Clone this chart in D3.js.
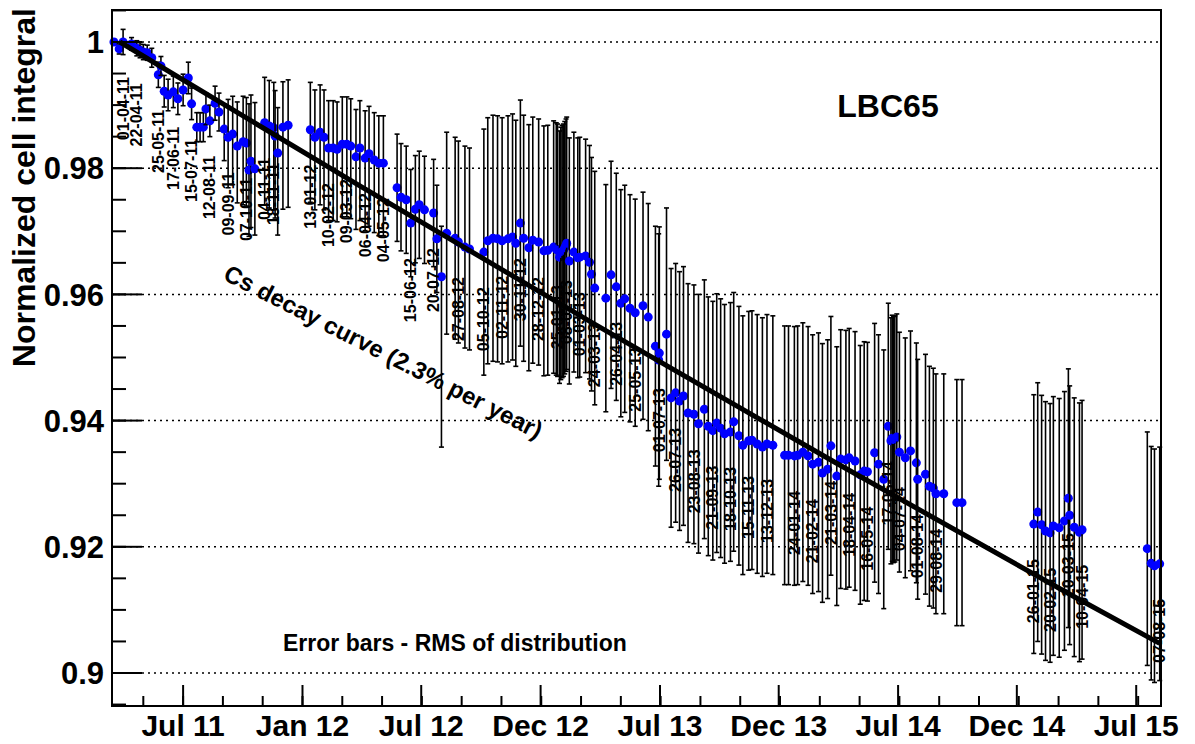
<!DOCTYPE html>
<html><head><meta charset="utf-8">
<script src="https://cdn.jsdelivr.net/npm/d3@7"></script>
<style>
body{margin:0;background:#fff}
svg text{font-family:"Liberation Sans",Arial,Helvetica,sans-serif;font-weight:bold;fill:#000}
</style>
</head><body>
<svg id="chart" width="1195" height="744"></svg>
<script>
// ---------------- data ----------------
const dates = [
"2011-03-18","2011-03-26","2011-04-01","2011-04-14","2011-04-22","2011-04-27","2011-05-02","2011-05-08","2011-05-15","2011-05-25",
"2011-05-29","2011-06-03","2011-06-09","2011-06-17","2011-06-24","2011-07-02","2011-07-10","2011-07-15","2011-07-23","2011-07-28",
"2011-08-02","2011-08-06","2011-08-12","2011-08-20","2011-08-26","2011-09-03","2011-09-09","2011-09-16","2011-09-23","2011-10-02",
"2011-10-07","2011-10-11","2011-10-14","2011-10-20","2011-11-04","2011-11-11","2011-11-18","2011-11-20","2011-11-24","2011-12-02",
"2011-12-10","2012-01-13","2012-01-20","2012-01-28","2012-02-03","2012-02-10","2012-02-17","2012-02-23","2012-03-02","2012-03-09",
"2012-03-15","2012-03-23","2012-03-29","2012-04-06","2012-04-12","2012-04-20","2012-04-27","2012-05-04","2012-05-25","2012-05-31",
"2012-06-08","2012-06-15","2012-06-22","2012-06-28","2012-07-06","2012-07-20","2012-07-25","2012-08-01","2012-08-09","2012-08-22",
"2012-08-27","2012-09-06","2012-09-13","2012-10-05","2012-10-11","2012-10-19","2012-10-26","2012-11-02","2012-11-11","2012-11-18",
"2012-11-23","2012-11-30","2012-12-05","2012-12-13","2012-12-19","2012-12-28","2013-01-05","2013-01-11","2013-01-20","2013-01-24",
"2013-01-26","2013-01-29","2013-01-31","2013-02-02","2013-02-04","2013-02-06","2013-02-08","2013-02-09","2013-02-13","2013-02-20",
"2013-02-26","2013-03-01","2013-03-10","2013-03-16","2013-03-19","2013-03-24","2013-04-10","2013-04-18","2013-04-26","2013-05-03",
"2013-05-09","2013-05-17","2013-05-25","2013-06-06","2013-06-14","2013-06-25","2013-06-30","2013-07-01","2013-07-12","2013-07-19",
"2013-07-26","2013-08-01","2013-08-07","2013-08-14","2013-08-23","2013-08-30","2013-09-08","2013-09-14","2013-09-21","2013-09-27",
"2013-10-03","2013-10-09","2013-10-18","2013-10-23","2013-10-31","2013-11-06","2013-11-15","2013-11-20","2013-11-28","2013-12-06",
"2013-12-13","2013-12-22","2014-01-09","2014-01-15","2014-01-24","2014-01-29","2014-02-06","2014-02-14","2014-02-21","2014-03-02",
"2014-03-08","2014-03-16","2014-03-21","2014-03-30","2014-04-05","2014-04-13","2014-04-18","2014-04-27","2014-05-05","2014-05-11",
"2014-05-16","2014-05-27","2014-06-02","2014-06-10","2014-06-17","2014-06-21","2014-06-23","2014-06-25","2014-06-27","2014-06-30",
"2014-07-04","2014-07-13","2014-07-21","2014-07-30","2014-08-01","2014-08-13","2014-08-19","2014-08-25","2014-08-29","2014-09-10",
"2014-09-30","2014-10-08","2015-01-26","2015-02-01","2015-02-07","2015-02-13","2015-02-20","2015-02-25","2015-03-06","2015-03-14",
"2015-03-20","2015-03-22","2015-03-29","2015-04-06","2015-04-10","2015-07-19","2015-07-25","2015-07-30","2015-08-07"
];
const values = [
1.0000,0.9989,1.0000,0.9997,0.9990,0.9987,0.9984,0.9983,0.9975,0.9948,
0.9962,0.9922,0.9916,0.9921,0.9910,0.9924,0.9943,0.9902,0.9865,0.9865,
0.9865,0.9894,0.9875,0.9903,0.9889,0.9862,0.9849,0.9854,0.9835,0.9842,
0.9840,0.9797,0.9811,0.9799,0.9872,0.9867,0.9864,0.9851,0.9824,0.9865,
0.9868,0.9861,0.9849,0.9857,0.9849,0.9832,0.9832,0.9830,0.9838,0.9838,
0.9835,0.9818,0.9832,0.9816,0.9823,0.9813,0.9808,0.9808,0.9769,0.9754,
0.9750,0.9713,0.9735,0.9742,0.9734,0.9729,0.9688,0.9628,0.9697,0.9689,
0.9683,0.9675,0.9672,0.9667,0.9685,0.9689,0.9688,0.9685,0.9688,0.9691,
0.9681,0.9713,0.9689,0.9674,0.9686,0.9683,0.9669,0.9670,0.9675,0.9672,
0.9670,0.9659,0.9665,0.9668,0.9670,0.9674,0.9678,0.9681,0.9653,0.9667,
0.9658,0.9659,0.9661,0.9651,0.9632,0.9610,0.9594,0.9631,0.9612,0.9586,
0.9593,0.9578,0.9571,0.9582,0.9564,0.9518,0.9496,0.9507,0.9537,0.9436,
0.9444,0.9431,0.9439,0.9412,0.9410,0.9395,0.9418,0.9391,0.9384,0.9396,
0.9388,0.9379,0.9382,0.9398,0.9376,0.9361,0.9368,0.9369,0.9363,0.9358,
0.9363,0.9361,0.9345,0.9345,0.9344,0.9345,0.9350,0.9344,0.9331,0.9334,
0.9317,0.9323,0.9360,0.9312,0.9339,0.9338,0.9341,0.9336,0.9314,0.9320,
0.9319,0.9349,0.9331,0.9307,0.9391,0.9368,0.9372,0.9370,0.9371,0.9374,
0.9350,0.9341,0.9352,0.9333,0.9307,0.9315,0.9296,0.9293,0.9284,0.9284,
0.9270,0.9270,0.9236,0.9255,0.9235,0.9225,0.9222,0.9233,0.9230,0.9241,
0.9277,0.9250,0.9231,0.9223,0.9227,0.9197,0.9174,0.9170,0.9173
];
// upper and lower extent of the RMS error bars
const errorsUp = [
0.0004,0.0008,0.0020,0.0010,0.0012,0.0012,0.0012,0.0012,0.0015,0.0020,
0.0015,0.0025,0.0025,0.0025,0.0025,0.0025,0.0025,0.0025,0.0023,0.0023,
0.0023,0.0025,0.0025,0.0027,0.0030,0.0040,0.0060,0.0060,0.0070,0.0072,
0.0072,0.0105,0.0105,0.0105,0.0072,0.0072,0.0072,0.0072,0.0072,0.0072,
0.0072,0.0075,0.0075,0.0075,0.0075,0.0075,0.0075,0.0075,0.0075,0.0075,
0.0075,0.0075,0.0075,0.0075,0.0075,0.0075,0.0075,0.0075,0.0085,0.0085,
0.0085,0.0085,0.0085,0.0085,0.0085,0.0085,0.0085,0.0080,0.0160,0.0160,
0.0160,0.0160,0.0160,0.0195,0.0195,0.0195,0.0195,0.0195,0.0195,0.0195,
0.0195,0.0195,0.0195,0.0195,0.0195,0.0195,0.0198,0.0198,0.0200,0.0200,
0.0200,0.0200,0.0200,0.0200,0.0200,0.0200,0.0200,0.0200,0.0195,0.0190,
0.0190,0.0190,0.0185,0.0185,0.0185,0.0185,0.0180,0.0180,0.0180,0.0180,
0.0180,0.0180,0.0180,0.0180,0.0180,0.0190,0.0200,0.0200,0.0200,0.0205,
0.0205,0.0205,0.0205,0.0205,0.0205,0.0205,0.0205,0.0205,0.0205,0.0205,
0.0205,0.0205,0.0205,0.0205,0.0205,0.0205,0.0205,0.0205,0.0205,0.0205,
0.0205,0.0205,0.0205,0.0205,0.0205,0.0205,0.0205,0.0205,0.0205,0.0205,
0.0205,0.0205,0.0205,0.0205,0.0205,0.0205,0.0205,0.0205,0.0205,0.0205,
0.0205,0.0205,0.0205,0.0205,0.0195,0.0195,0.0195,0.0195,0.0195,0.0195,
0.0190,0.0190,0.0190,0.0190,0.0190,0.0190,0.0190,0.0190,0.0190,0.0190,
0.0195,0.0195,0.0205,0.0205,0.0205,0.0205,0.0205,0.0205,0.0205,0.0205,
0.0205,0.0205,0.0205,0.0205,0.0205,0.0185,0.0185,0.0185,0.0185
];
const errorsDown = [
0.0004,0.0008,0.0020,0.0010,0.0012,0.0012,0.0012,0.0012,0.0015,0.0020,
0.0015,0.0025,0.0025,0.0025,0.0025,0.0025,0.0025,0.0025,0.0023,0.0023,
0.0023,0.0025,0.0025,0.0027,0.0030,0.0050,0.0080,0.0080,0.0090,0.0100,
0.0100,0.0105,0.0105,0.0105,0.0130,0.0130,0.0130,0.0130,0.0130,0.0130,
0.0130,0.0115,0.0115,0.0115,0.0115,0.0115,0.0115,0.0115,0.0115,0.0115,
0.0115,0.0115,0.0115,0.0115,0.0115,0.0115,0.0115,0.0115,0.0085,0.0085,
0.0085,0.0085,0.0085,0.0085,0.0085,0.0085,0.0085,0.0270,0.0160,0.0160,
0.0160,0.0160,0.0160,0.0195,0.0195,0.0195,0.0195,0.0195,0.0195,0.0195,
0.0195,0.0195,0.0195,0.0195,0.0195,0.0195,0.0198,0.0198,0.0200,0.0200,
0.0200,0.0200,0.0200,0.0200,0.0200,0.0200,0.0200,0.0200,0.0195,0.0190,
0.0190,0.0190,0.0185,0.0185,0.0185,0.0185,0.0180,0.0180,0.0180,0.0180,
0.0180,0.0180,0.0180,0.0180,0.0180,0.0190,0.0200,0.0200,0.0200,0.0205,
0.0205,0.0205,0.0205,0.0205,0.0205,0.0205,0.0205,0.0205,0.0205,0.0205,
0.0205,0.0205,0.0205,0.0205,0.0205,0.0205,0.0205,0.0205,0.0205,0.0205,
0.0205,0.0205,0.0205,0.0205,0.0205,0.0205,0.0205,0.0205,0.0205,0.0205,
0.0205,0.0205,0.0205,0.0205,0.0205,0.0205,0.0205,0.0205,0.0205,0.0205,
0.0205,0.0205,0.0205,0.0205,0.0195,0.0195,0.0195,0.0195,0.0195,0.0195,
0.0190,0.0190,0.0190,0.0190,0.0190,0.0190,0.0190,0.0190,0.0190,0.0190,
0.0195,0.0195,0.0205,0.0205,0.0205,0.0205,0.0205,0.0205,0.0205,0.0205,
0.0205,0.0205,0.0205,0.0205,0.0205,0.0185,0.0185,0.0185,0.0185
];
const labelDates = [
"2011-04-01","2011-04-22","2011-05-25","2011-06-17","2011-07-15","2011-08-12","2011-09-09","2011-10-07","2011-11-04","2011-11-18",
"2012-01-13","2012-02-10","2012-03-09","2012-04-06","2012-05-04","2012-06-15","2012-07-20","2012-08-27","2012-10-05","2012-11-02",
"2012-11-30","2012-12-28","2013-01-26","2013-02-08","2013-03-01","2013-03-24","2013-04-26","2013-05-25","2013-07-01","2013-07-26",
"2013-08-23","2013-09-21","2013-10-18","2013-11-15","2013-12-13","2014-01-24","2014-02-21","2014-03-21","2014-04-18","2014-05-16",
"2014-06-17","2014-07-04","2014-08-01","2014-08-29","2015-01-26","2015-02-20","2015-03-20","2015-04-10","2015-08-07"
];
const labelTexts = [
"01-04-11","22-04-11","25-05-11","17-06-11","15-07-11","12-08-11","09-09-11","07-10-11","04-11-11","18-11-11",
"13-01-12","10-02-12","09-03-12","06-04-12","04-05-12","15-06-12","20-07-12","27-08-12","05-10-12","02-11-12",
"30-11-12","28-12-12","25-01-13","08-02-13","01-03-13","24-03-13","26-04-13","25-05-13","01-07-13","26-07-13",
"23-08-13","21-09-13","18-10-13","15-11-13","13-12-13","24-01-14","21-02-14","21-03-14","18-04-14","16-05-14",
"17-06-14","04-07-14","01-08-14","29-08-14","26-01-15","20-02-15","20-03-15","10-04-15","07-08-15"
];
const decayDates  = ["2011-03-27","2012-03-27","2013-03-27","2014-03-27","2015-03-27","2015-08-07"];
const decayValues = [1.0000,0.9773,0.9551,0.9334,0.9122,0.9047];
const xTickDates  = ["2011-07-02","2012-01-01","2012-07-01","2012-12-31","2013-07-02","2013-12-31","2014-07-02","2014-12-31","2015-07-02"];
const xTickLabels = ["Jul 11","Jan 12","Jul 12","Dec 12","Jul 13","Dec 13","Jul 14","Dec 14","Jul 15"];
const yTicks      = [0.9,0.92,0.94,0.96,0.98,1.0];
const yTickLabels = ["0.9","0.92","0.94","0.96","0.98","1"];
const yTitle = "Normalized cell integral";
const cellName = "LBC65";
const curveText = "Cs decay curve (2.3% per year)";
const noteText = "Error bars - RMS of distribution";

// ---------------- layout ----------------
const parse = d3.utcParse("%Y-%m-%d");
const L = 112, R = 1161, T = 10, B = 706;
const x = d3.scaleUtc().domain([parse("2011-03-15"), parse("2015-08-09")]).range([L, R]);
const y = d3.scaleLinear().domain([0.89477, 1.00507]).range([B, T]);
const svg = d3.select("#chart");

const pts = dates.map((d,i)=>({t:parse(d), v:values[i], up:errorsUp[i], dn:errorsDown[i]}));

// grid
svg.append("g").selectAll("line").data(yTicks).join("line")
  .attr("x1", L).attr("x2", R).attr("y1", d=>y(d)).attr("y2", d=>y(d))
  .attr("stroke","#000").attr("stroke-width",1.5).attr("stroke-dasharray","2,4");

// points with error bars
const cap = 2.5;
const pg = svg.append("g");
pts.forEach(p=>{
  const g = pg.append("g").attr("stroke","#000").attr("stroke-width",1.6);
  const px = x(p.t), y1 = y(p.v + p.up), y2 = y(p.v - p.dn);
  g.append("line").attr("x1",px).attr("x2",px).attr("y1",y1).attr("y2",y2);
  g.append("line").attr("x1",px-cap).attr("x2",px+cap).attr("y1",y1).attr("y2",y1);
  g.append("line").attr("x1",px-cap).attr("x2",px+cap).attr("y1",y2).attr("y2",y2);
  g.append("circle").attr("cx",px).attr("cy",y(p.v)).attr("r",4.5).attr("fill","#0000ff").attr("stroke","none");
});

// decay curve
const line = d3.line().x(d=>x(d.t)).y(d=>y(d.v));
svg.append("path").datum(decayDates.map((d,i)=>({t:parse(d), v:decayValues[i]})))
  .attr("d", line).attr("fill","none").attr("stroke","#000").attr("stroke-width",5);

// date labels
const bisect = d3.bisector(d=>d.t).center;
svg.append("g").selectAll("text").data(labelDates.map((d,i)=>({t:parse(d), s:labelTexts[i]}))).join("text")
  .attr("transform", d=>{ const p = pts[bisect(pts, d.t)]; return `translate(${x(d.t)},${y(p.v)+35}) rotate(-90)`; })
  .attr("text-anchor","end").attr("dy","0.35em").attr("font-size",16).text(d=>d.s);

// axes
const ax = svg.append("g").attr("stroke","#000").attr("stroke-width",2);
ax.append("rect").attr("x",L).attr("y",T).attr("width",R-L).attr("height",B-T).attr("fill","none");
const yMinor = d3.range(0.895, 1.0051, 0.005);
ax.selectAll(".ym").data(yMinor).join("line").attr("x1",L).attr("x2",L+14).attr("y1",d=>y(d)).attr("y2",d=>y(d));
ax.selectAll(".yM").data(yTicks).join("line").attr("x1",L).attr("x2",L+30).attr("y1",d=>y(d)).attr("y2",d=>y(d));
const xMaj = xTickDates.map(parse);
const xMinor = [];
const step = (xMaj[1]-xMaj[0])/3;
for (let t = +xMaj[0] - step; t < +x.domain()[1]; t += step) if (t > +x.domain()[0]) xMinor.push(new Date(t));
ax.selectAll(".xm").data(xMinor).join("line").attr("x1",d=>x(d)).attr("x2",d=>x(d)).attr("y1",B).attr("y2",B-10);
ax.selectAll(".xM").data(xMaj).join("line").attr("x1",d=>x(d)).attr("x2",d=>x(d)).attr("y1",B).attr("y2",B-21);

svg.append("g").selectAll("text").data(yTicks).join("text")
  .attr("x",104).attr("y",d=>y(d)).attr("dy","0.36em").attr("text-anchor","end").attr("font-size",31)
  .text((d,i)=>yTickLabels[i]);
svg.append("g").selectAll("text").data(xMaj).join("text")
  .attr("x",d=>x(d)).attr("y",736).attr("text-anchor","middle").attr("font-size",30)
  .text((d,i)=>xTickLabels[i]);

svg.append("text").attr("transform","translate(35,8) rotate(-90)").attr("text-anchor","end").attr("font-size",32).text(yTitle);
svg.append("text").attr("x",888).attr("y",117).attr("text-anchor","middle").attr("font-size",32).text(cellName);
svg.append("text").attr("transform","translate(222,279) rotate(27)").attr("font-size",24).text(curveText);
svg.append("text").attr("x",283).attr("y",651).attr("font-size",23).text(noteText);
</script>
</body></html>
